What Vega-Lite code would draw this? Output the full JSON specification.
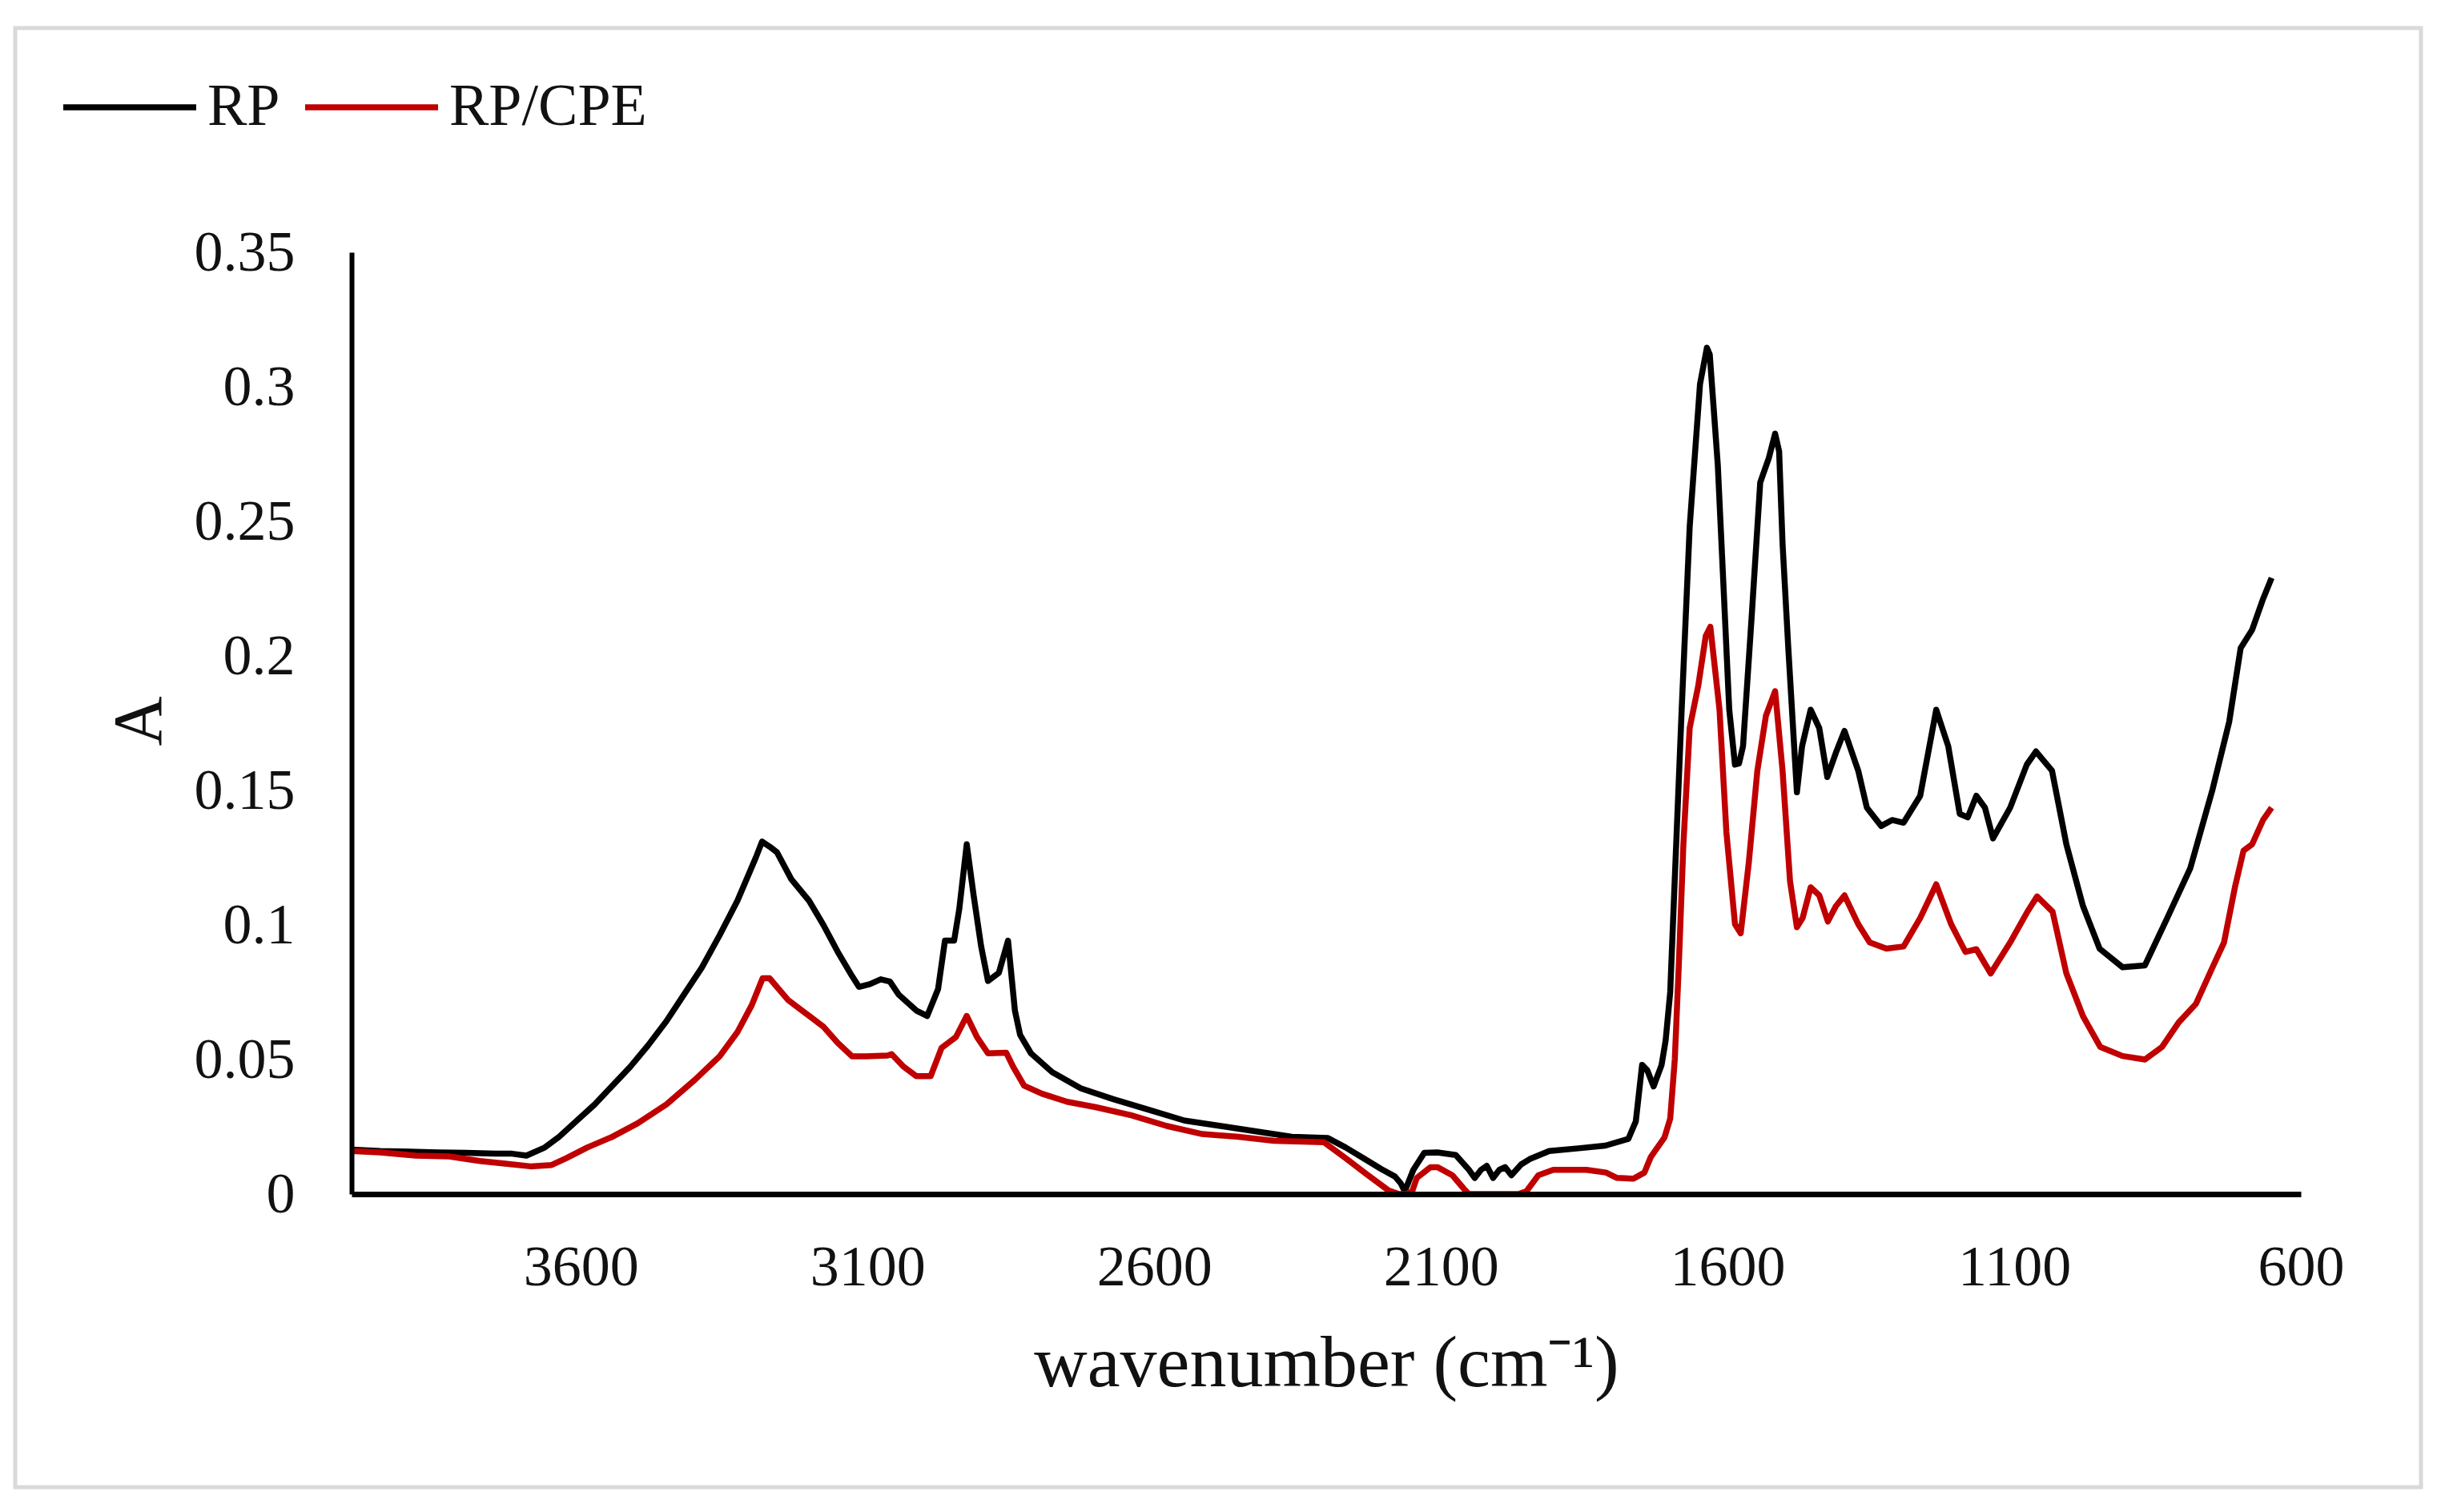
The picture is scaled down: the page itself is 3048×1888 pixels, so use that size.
{
  "$schema": "https://vega.github.io/schema/vega-lite/v6.json",
  "autosize": {"type": "none"},
  "width": 3004,
  "height": 1822,
  "padding": {"left": 19, "top": 35, "right": 25, "bottom": 31},
  "background": "white",
  "data": {
    "values": [
      {"s": "RP", "w": 4000, "a": 0.0165}, {"s": "RP", "w": 3950, "a": 0.016}, {"s": "RP", "w": 3900, "a": 0.0158},
      {"s": "RP", "w": 3850, "a": 0.0155}, {"s": "RP", "w": 3800, "a": 0.0153}, {"s": "RP", "w": 3750, "a": 0.015},
      {"s": "RP", "w": 3720, "a": 0.015}, {"s": "RP", "w": 3695, "a": 0.0143}, {"s": "RP", "w": 3663, "a": 0.0173},
      {"s": "RP", "w": 3638, "a": 0.0213}, {"s": "RP", "w": 3607, "a": 0.0273}, {"s": "RP", "w": 3576, "a": 0.0333},
      {"s": "RP", "w": 3545, "a": 0.0403}, {"s": "RP", "w": 3514, "a": 0.0473}, {"s": "RP", "w": 3483, "a": 0.0552},
      {"s": "RP", "w": 3451, "a": 0.0642}, {"s": "RP", "w": 3420, "a": 0.0742}, {"s": "RP", "w": 3389, "a": 0.0842},
      {"s": "RP", "w": 3358, "a": 0.0962}, {"s": "RP", "w": 3327, "a": 0.109}, {"s": "RP", "w": 3295, "a": 0.125},
      {"s": "RP", "w": 3284, "a": 0.131}, {"s": "RP", "w": 3270, "a": 0.129}, {"s": "RP", "w": 3258, "a": 0.127},
      {"s": "RP", "w": 3233, "a": 0.117}, {"s": "RP", "w": 3202, "a": 0.109}, {"s": "RP", "w": 3177, "a": 0.1},
      {"s": "RP", "w": 3152, "a": 0.09}, {"s": "RP", "w": 3127, "a": 0.081}, {"s": "RP", "w": 3115, "a": 0.077},
      {"s": "RP", "w": 3096, "a": 0.078}, {"s": "RP", "w": 3077, "a": 0.0798}, {"s": "RP", "w": 3061, "a": 0.079},
      {"s": "RP", "w": 3046, "a": 0.0742}, {"s": "RP", "w": 3015, "a": 0.0682}, {"s": "RP", "w": 2996, "a": 0.0662},
      {"s": "RP", "w": 2977, "a": 0.0762}, {"s": "RP", "w": 2965, "a": 0.0942}, {"s": "RP", "w": 2949, "a": 0.0942},
      {"s": "RP", "w": 2940, "a": 0.106}, {"s": "RP", "w": 2927, "a": 0.13}, {"s": "RP", "w": 2915, "a": 0.111},
      {"s": "RP", "w": 2902, "a": 0.0922}, {"s": "RP", "w": 2890, "a": 0.0792}, {"s": "RP", "w": 2871, "a": 0.0822},
      {"s": "RP", "w": 2855, "a": 0.0942}, {"s": "RP", "w": 2843, "a": 0.0682}, {"s": "RP", "w": 2834, "a": 0.0592},
      {"s": "RP", "w": 2815, "a": 0.0523}, {"s": "RP", "w": 2778, "a": 0.0453}, {"s": "RP", "w": 2728, "a": 0.0393},
      {"s": "RP", "w": 2672, "a": 0.0353}, {"s": "RP", "w": 2609, "a": 0.0313}, {"s": "RP", "w": 2547, "a": 0.0273},
      {"s": "RP", "w": 2484, "a": 0.0253}, {"s": "RP", "w": 2422, "a": 0.0233}, {"s": "RP", "w": 2360, "a": 0.0213},
      {"s": "RP", "w": 2297, "a": 0.0208}, {"s": "RP", "w": 2266, "a": 0.0173}, {"s": "RP", "w": 2235, "a": 0.0133},
      {"s": "RP", "w": 2204, "a": 0.0093}, {"s": "RP", "w": 2180, "a": 0.0065}, {"s": "RP", "w": 2170, "a": 0.004},
      {"s": "RP", "w": 2163, "a": 0.001}, {"s": "RP", "w": 2148, "a": 0.009}, {"s": "RP", "w": 2129, "a": 0.0153},
      {"s": "RP", "w": 2106, "a": 0.0155}, {"s": "RP", "w": 2074, "a": 0.0145}, {"s": "RP", "w": 2051, "a": 0.009},
      {"s": "RP", "w": 2041, "a": 0.006}, {"s": "RP", "w": 2030, "a": 0.009}, {"s": "RP", "w": 2020, "a": 0.0105},
      {"s": "RP", "w": 2009, "a": 0.006}, {"s": "RP", "w": 1998, "a": 0.009}, {"s": "RP", "w": 1988, "a": 0.01},
      {"s": "RP", "w": 1977, "a": 0.007}, {"s": "RP", "w": 1960, "a": 0.011}, {"s": "RP", "w": 1945, "a": 0.013},
      {"s": "RP", "w": 1911, "a": 0.016}, {"s": "RP", "w": 1860, "a": 0.017}, {"s": "RP", "w": 1813, "a": 0.018},
      {"s": "RP", "w": 1773, "a": 0.0205}, {"s": "RP", "w": 1760, "a": 0.027}, {"s": "RP", "w": 1749, "a": 0.048},
      {"s": "RP", "w": 1740, "a": 0.046}, {"s": "RP", "w": 1729, "a": 0.04}, {"s": "RP", "w": 1715, "a": 0.048},
      {"s": "RP", "w": 1708, "a": 0.057}, {"s": "RP", "w": 1700, "a": 0.075}, {"s": "RP", "w": 1693, "a": 0.112},
      {"s": "RP", "w": 1680, "a": 0.18}, {"s": "RP", "w": 1666, "a": 0.248}, {"s": "RP", "w": 1648, "a": 0.301},
      {"s": "RP", "w": 1636, "a": 0.3145}, {"s": "RP", "w": 1631, "a": 0.312}, {"s": "RP", "w": 1617, "a": 0.271},
      {"s": "RP", "w": 1607, "a": 0.2257}, {"s": "RP", "w": 1597, "a": 0.18}, {"s": "RP", "w": 1587, "a": 0.1596},
      {"s": "RP", "w": 1580, "a": 0.16}, {"s": "RP", "w": 1573, "a": 0.1664}, {"s": "RP", "w": 1558, "a": 0.2143},
      {"s": "RP", "w": 1543, "a": 0.2644}, {"s": "RP", "w": 1528, "a": 0.2735}, {"s": "RP", "w": 1517, "a": 0.2826},
      {"s": "RP", "w": 1510, "a": 0.276}, {"s": "RP", "w": 1504, "a": 0.2416}, {"s": "RP", "w": 1494, "a": 0.2029},
      {"s": "RP", "w": 1479, "a": 0.1493}, {"s": "RP", "w": 1470, "a": 0.1664}, {"s": "RP", "w": 1455, "a": 0.18},
      {"s": "RP", "w": 1440, "a": 0.1732}, {"s": "RP", "w": 1426, "a": 0.155}, {"s": "RP", "w": 1411, "a": 0.164},
      {"s": "RP", "w": 1396, "a": 0.1721}, {"s": "RP", "w": 1372, "a": 0.1573}, {"s": "RP", "w": 1357, "a": 0.1436},
      {"s": "RP", "w": 1332, "a": 0.1368}, {"s": "RP", "w": 1313, "a": 0.139}, {"s": "RP", "w": 1293, "a": 0.138},
      {"s": "RP", "w": 1264, "a": 0.148}, {"s": "RP", "w": 1236, "a": 0.18}, {"s": "RP", "w": 1215, "a": 0.1664},
      {"s": "RP", "w": 1195, "a": 0.1413}, {"s": "RP", "w": 1181, "a": 0.14}, {"s": "RP", "w": 1166, "a": 0.148},
      {"s": "RP", "w": 1151, "a": 0.1436}, {"s": "RP", "w": 1137, "a": 0.1322}, {"s": "RP", "w": 1107, "a": 0.1436},
      {"s": "RP", "w": 1078, "a": 0.1596}, {"s": "RP", "w": 1062, "a": 0.1645}, {"s": "RP", "w": 1034, "a": 0.1573},
      {"s": "RP", "w": 1009, "a": 0.13}, {"s": "RP", "w": 980, "a": 0.107}, {"s": "RP", "w": 951, "a": 0.0912},
      {"s": "RP", "w": 911, "a": 0.0843}, {"s": "RP", "w": 872, "a": 0.085}, {"s": "RP", "w": 833, "a": 0.1026},
      {"s": "RP", "w": 793, "a": 0.121}, {"s": "RP", "w": 754, "a": 0.1504}, {"s": "RP", "w": 725, "a": 0.1755},
      {"s": "RP", "w": 705, "a": 0.2029}, {"s": "RP", "w": 685, "a": 0.2097}, {"s": "RP", "w": 666, "a": 0.2211},
      {"s": "RP", "w": 651, "a": 0.229},

      {"s": "RP/CPE", "w": 4000, "a": 0.016}, {"s": "RP/CPE", "w": 3950, "a": 0.0155}, {"s": "RP/CPE", "w": 3888, "a": 0.0143},
      {"s": "RP/CPE", "w": 3830, "a": 0.014}, {"s": "RP/CPE", "w": 3776, "a": 0.0123}, {"s": "RP/CPE", "w": 3732, "a": 0.0113},
      {"s": "RP/CPE", "w": 3688, "a": 0.0103}, {"s": "RP/CPE", "w": 3651, "a": 0.0108}, {"s": "RP/CPE", "w": 3626, "a": 0.0133},
      {"s": "RP/CPE", "w": 3589, "a": 0.0173}, {"s": "RP/CPE", "w": 3545, "a": 0.0213}, {"s": "RP/CPE", "w": 3501, "a": 0.0263},
      {"s": "RP/CPE", "w": 3451, "a": 0.0333}, {"s": "RP/CPE", "w": 3402, "a": 0.0423}, {"s": "RP/CPE", "w": 3358, "a": 0.0512},
      {"s": "RP/CPE", "w": 3327, "a": 0.0602}, {"s": "RP/CPE", "w": 3302, "a": 0.0702}, {"s": "RP/CPE", "w": 3283, "a": 0.0802},
      {"s": "RP/CPE", "w": 3271, "a": 0.0802}, {"s": "RP/CPE", "w": 3239, "a": 0.0722}, {"s": "RP/CPE", "w": 3208, "a": 0.0672},
      {"s": "RP/CPE", "w": 3177, "a": 0.0622}, {"s": "RP/CPE", "w": 3152, "a": 0.0562}, {"s": "RP/CPE", "w": 3127, "a": 0.0512},
      {"s": "RP/CPE", "w": 3102, "a": 0.0512}, {"s": "RP/CPE", "w": 3065, "a": 0.0515}, {"s": "RP/CPE", "w": 3058, "a": 0.052},
      {"s": "RP/CPE", "w": 3037, "a": 0.0473}, {"s": "RP/CPE", "w": 3015, "a": 0.0438}, {"s": "RP/CPE", "w": 2990, "a": 0.0438},
      {"s": "RP/CPE", "w": 2971, "a": 0.0543}, {"s": "RP/CPE", "w": 2946, "a": 0.0583}, {"s": "RP/CPE", "w": 2927, "a": 0.0662},
      {"s": "RP/CPE", "w": 2909, "a": 0.0583}, {"s": "RP/CPE", "w": 2890, "a": 0.0523}, {"s": "RP/CPE", "w": 2858, "a": 0.0525},
      {"s": "RP/CPE", "w": 2846, "a": 0.0473}, {"s": "RP/CPE", "w": 2827, "a": 0.0403}, {"s": "RP/CPE", "w": 2796, "a": 0.0373},
      {"s": "RP/CPE", "w": 2752, "a": 0.0343}, {"s": "RP/CPE", "w": 2702, "a": 0.0323}, {"s": "RP/CPE", "w": 2640, "a": 0.0293},
      {"s": "RP/CPE", "w": 2578, "a": 0.0253}, {"s": "RP/CPE", "w": 2516, "a": 0.0223}, {"s": "RP/CPE", "w": 2453, "a": 0.0213},
      {"s": "RP/CPE", "w": 2391, "a": 0.0198}, {"s": "RP/CPE", "w": 2304, "a": 0.0193}, {"s": "RP/CPE", "w": 2266, "a": 0.0133},
      {"s": "RP/CPE", "w": 2229, "a": 0.0073}, {"s": "RP/CPE", "w": 2191, "a": 0.0013}, {"s": "RP/CPE", "w": 2173, "a": -0.003},
      {"s": "RP/CPE", "w": 2160, "a": -0.004}, {"s": "RP/CPE", "w": 2150, "a": 0.001}, {"s": "RP/CPE", "w": 2142, "a": 0.006},
      {"s": "RP/CPE", "w": 2118, "a": 0.01}, {"s": "RP/CPE", "w": 2106, "a": 0.01}, {"s": "RP/CPE", "w": 2080, "a": 0.007},
      {"s": "RP/CPE", "w": 2060, "a": 0.002}, {"s": "RP/CPE", "w": 2051, "a": -0.002}, {"s": "RP/CPE", "w": 2040, "a": -0.005},
      {"s": "RP/CPE", "w": 2020, "a": -0.008}, {"s": "RP/CPE", "w": 2004, "a": -0.001}, {"s": "RP/CPE", "w": 1990, "a": -0.008},
      {"s": "RP/CPE", "w": 1965, "a": -0.004}, {"s": "RP/CPE", "w": 1951, "a": 0.001}, {"s": "RP/CPE", "w": 1930, "a": 0.007},
      {"s": "RP/CPE", "w": 1904, "a": 0.009}, {"s": "RP/CPE", "w": 1881, "a": 0.009}, {"s": "RP/CPE", "w": 1846, "a": 0.009},
      {"s": "RP/CPE", "w": 1812, "a": 0.008}, {"s": "RP/CPE", "w": 1793, "a": 0.006}, {"s": "RP/CPE", "w": 1764, "a": 0.0057},
      {"s": "RP/CPE", "w": 1745, "a": 0.008}, {"s": "RP/CPE", "w": 1734, "a": 0.0137}, {"s": "RP/CPE", "w": 1710, "a": 0.021},
      {"s": "RP/CPE", "w": 1700, "a": 0.028}, {"s": "RP/CPE", "w": 1692, "a": 0.05}, {"s": "RP/CPE", "w": 1685, "a": 0.085},
      {"s": "RP/CPE", "w": 1677, "a": 0.13}, {"s": "RP/CPE", "w": 1666, "a": 0.1732}, {"s": "RP/CPE", "w": 1651, "a": 0.189},
      {"s": "RP/CPE", "w": 1638, "a": 0.2074}, {"s": "RP/CPE", "w": 1630, "a": 0.2108}, {"s": "RP/CPE", "w": 1614, "a": 0.18},
      {"s": "RP/CPE", "w": 1602, "a": 0.1345}, {"s": "RP/CPE", "w": 1587, "a": 0.1003}, {"s": "RP/CPE", "w": 1577, "a": 0.0969},
      {"s": "RP/CPE", "w": 1563, "a": 0.123}, {"s": "RP/CPE", "w": 1548, "a": 0.1573}, {"s": "RP/CPE", "w": 1533, "a": 0.1778},
      {"s": "RP/CPE", "w": 1517, "a": 0.1869}, {"s": "RP/CPE", "w": 1504, "a": 0.1573}, {"s": "RP/CPE", "w": 1491, "a": 0.1163},
      {"s": "RP/CPE", "w": 1479, "a": 0.0992}, {"s": "RP/CPE", "w": 1469, "a": 0.1026}, {"s": "RP/CPE", "w": 1455, "a": 0.114},
      {"s": "RP/CPE", "w": 1440, "a": 0.111}, {"s": "RP/CPE", "w": 1425, "a": 0.1013}, {"s": "RP/CPE", "w": 1411, "a": 0.107},
      {"s": "RP/CPE", "w": 1396, "a": 0.111}, {"s": "RP/CPE", "w": 1372, "a": 0.1003}, {"s": "RP/CPE", "w": 1352, "a": 0.0935},
      {"s": "RP/CPE", "w": 1323, "a": 0.0912}, {"s": "RP/CPE", "w": 1293, "a": 0.092}, {"s": "RP/CPE", "w": 1264, "a": 0.1026},
      {"s": "RP/CPE", "w": 1236, "a": 0.1151}, {"s": "RP/CPE", "w": 1210, "a": 0.1003}, {"s": "RP/CPE", "w": 1185, "a": 0.09},
      {"s": "RP/CPE", "w": 1166, "a": 0.091}, {"s": "RP/CPE", "w": 1141, "a": 0.082}, {"s": "RP/CPE", "w": 1107, "a": 0.0935},
      {"s": "RP/CPE", "w": 1077, "a": 0.1049}, {"s": "RP/CPE", "w": 1060, "a": 0.1106}, {"s": "RP/CPE", "w": 1033, "a": 0.1049},
      {"s": "RP/CPE", "w": 1009, "a": 0.082}, {"s": "RP/CPE", "w": 980, "a": 0.0661}, {"s": "RP/CPE", "w": 950, "a": 0.0547},
      {"s": "RP/CPE", "w": 911, "a": 0.0513}, {"s": "RP/CPE", "w": 872, "a": 0.05}, {"s": "RP/CPE", "w": 842, "a": 0.0547},
      {"s": "RP/CPE", "w": 813, "a": 0.0638}, {"s": "RP/CPE", "w": 783, "a": 0.0707}, {"s": "RP/CPE", "w": 754, "a": 0.0843},
      {"s": "RP/CPE", "w": 734, "a": 0.0935}, {"s": "RP/CPE", "w": 715, "a": 0.114}, {"s": "RP/CPE", "w": 700, "a": 0.1276},
      {"s": "RP/CPE", "w": 685, "a": 0.13}, {"s": "RP/CPE", "w": 666, "a": 0.139}, {"s": "RP/CPE", "w": 651, "a": 0.1436}
    ]
  },
  "mark": {"type": "line", "strokeWidth": 7.5, "strokeJoin": "round"},
  "encoding": {
    "x": {
      "field": "w",
      "type": "quantitative",
      "scale": {"domain": [4000, 600], "range": [420, 2854], "nice": false, "zero": false},
      "axis": {
        "title": "wavenumber (cm⁻¹)",
        "offset": -366,
        "values": [3600, 3100, 2600, 2100, 1600, 1100, 600],
        "format": "d",
        "grid": false,
        "ticks": false,
        "tickSize": 0,
        "labelPadding": 56,
        "labelFontSize": 72,
        "labelFlush": false,
        "domainWidth": 7,
        "titleFontSize": 92,
        "titleFontWeight": "normal",
        "titleX": 1637,
        "titleY": 239,
        "titleAlign": "center",
        "titleBaseline": "alphabetic",
        "zindex": 1
      }
    },
    "y": {
      "field": "a",
      "type": "quantitative",
      "scale": {"domain": [0, 0.35], "range": [1456, 280], "nice": false, "clamp": true},
      "axis": {
        "title": "A",
        "offset": -420,
        "values": [0, 0.05, 0.1, 0.15, 0.2, 0.25, 0.3, 0.35],
        "format": "~g",
        "grid": false,
        "ticks": false,
        "tickSize": 0,
        "labelPadding": 71,
        "labelFontSize": 72,
        "domainWidth": 6,
        "titleFontSize": 86,
        "titleFontWeight": "normal",
        "titleAngle": -90,
        "titleX": -239,
        "titleY": 865,
        "titleAlign": "center",
        "titleBaseline": "alphabetic",
        "zindex": 1
      }
    },
    "color": {
      "field": "s",
      "type": "nominal",
      "scale": {"domain": ["RP", "RP/CPE"], "range": ["#000000", "#c00000"]},
      "legend": {
        "title": null,
        "orient": "none",
        "legendX": 56,
        "legendY": 12,
        "direction": "horizontal",
        "symbolType": "stroke",
        "symbolSize": 27556,
        "symbolStrokeWidth": 7.5,
        "labelFontSize": 74,
        "labelLimit": 0,
        "labelOffset": 10,
        "columnPadding": 16,
        "padding": 0
      }
    }
  },
  "config": {
    "font": "Liberation Serif",
    "view": {"stroke": "#d9d9d9", "strokeWidth": 5},
    "axis": {"labelColor": "#111111", "titleColor": "#111111", "domainColor": "#000000", "labelFont": "Liberation Serif", "titleFont": "Liberation Serif"},
    "legend": {"labelColor": "#111111", "labelFont": "Liberation Serif"}
  }
}
